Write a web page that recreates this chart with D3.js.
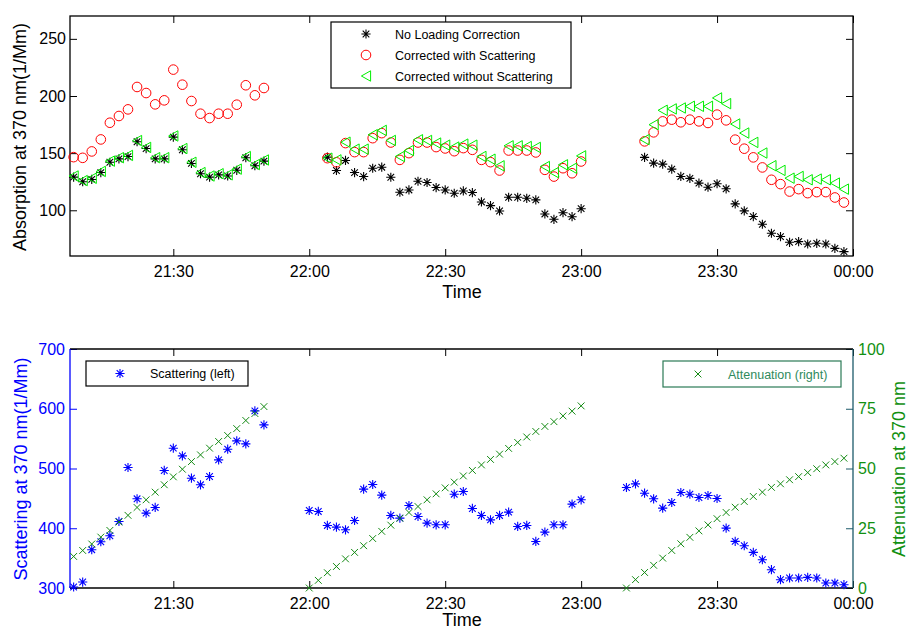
<!DOCTYPE html>
<html>
<head>
<meta charset="utf-8">
<script src="https://cdn.jsdelivr.net/npm/d3@7"></script>
<style>
  body { margin: 0; background: #fff; }
  svg { font-family: "Liberation Sans", Arial, sans-serif; }
</style>
</head>
<body>
<div class="chart"></div>
<script>
var totalWidth = 909;
var totalHeight = 629;

// DATA STUFF
// every series is sampled every 2 minutes, in three runs with gaps between them
var topStarts = ["21:08", "22:04", "23:14"];
var bottomStarts = ["21:08", "22:00", "23:10"];
var timeTicks = ["21:30", "22:00", "22:30", "23:00", "23:30", "00:00"];

var absNoCorrection = [
  [129, 125, 127, 133, 142, 145, 147, 160, 154, 145, 145, 164, 153, 141, 132, 129, 131, 130, 135, 146, 139, 143],
  [146.5, 134.8, 143.6, 133, 129.5, 136.8, 137.7, 128.9, 115.8, 117.8, 125.4, 124.3, 119.9, 117.8, 114.9, 116.9, 115.5, 107.3, 104.1, 99.4, 111.4, 111.4, 110.5, 109.1, 96.8, 92.1, 97.9, 94.4, 101.4],
  [146.3, 141.3, 140.4, 136, 129.6, 127.9, 123.8, 120.2, 123.2, 118.8, 105.6, 99.5, 94.5, 87.8, 79.9, 77, 72, 72.6, 70.5, 71.1, 70.5, 66.7, 63.8]
];
var absWithScattering = [
  [146.5, 145.9, 151.5, 162, 176.6, 182.5, 188.3, 207.9, 202.6, 192.7, 196.2, 223.1, 209.9, 195.6, 184.5, 180.7, 184.5, 184.5, 192.4, 209.4, 200.6, 207],
  [145.6, 142, 158.8, 150.9, 150.9, 163.1, 167.5, 159.3, 144.1, 150, 159.3, 159.3, 155.3, 154.1, 151.7, 154.4, 152.9, 144.1, 142.1, 134.8, 152.3, 152.3, 152.3, 150.6, 135.4, 129.5, 136.8, 132.4, 142.7],
  [160.3, 168.2, 177.8, 179.3, 177, 179.3, 177.8, 176.4, 183.7, 178.7, 161.8, 153.9, 146.3, 137.5, 126.7, 122.9, 116.4, 118.5, 115, 115.9, 115.9, 111.2, 106.8]
];
var absWithoutScattering = [
  [130, 126, 128, 134, 143, 146, 148, 161, 155, 146, 146, 165, 154, 142, 133, 130, 132, 131, 136, 147, 140, 144],
  [145.6, 144.1, 159.6, 153.5, 153.5, 166.1, 169.9, 161.1, 147.1, 152.3, 161.7, 161.1, 158.8, 157, 155.3, 157.9, 157, 147.1, 144.7, 138.9, 156.4, 156.4, 155.8, 155, 138.3, 133, 139.8, 136.8, 147.6],
  [161.8, 174.9, 187.5, 188.7, 189.5, 191, 191, 191, 198.3, 193.3, 175.5, 167.6, 159.4, 150.1, 139, 134.9, 128.1, 129.6, 126.7, 127.3, 126.7, 123.8, 118.5]
];
var scattering = [
  [301.7, 310, 364.1, 377.4, 387.5, 411.4, 501.7, 449.3, 425.3, 434.8, 496.7, 534, 521.2, 483.8, 472.7, 486.6, 514.5, 532.3, 546.2, 541.2, 596.4, 573],
  [429.7, 428.1, 404.7, 401.9, 397.4, 413, 465.4, 473.2, 455.4, 421.4, 416.9, 438.1, 419.7, 408.6, 405.8, 405.8, 457, 461.5, 433.1, 421.4, 414.1, 421.4, 427, 403, 404.7, 377.9, 393.5, 405.8, 405.8, 440.3, 447.6],
  [468.2, 474.3, 458.7, 449.3, 433.6, 443.1, 459.8, 457, 451.5, 454.8, 449.8, 400.2, 378, 370.7, 359.6, 347.3, 330.6, 313.9, 316.7, 316.7, 317.8, 316.7, 308.3, 308.3, 305.5]
];
var attenuation = [
  [13.2, 15.7, 18.4, 21.3, 24.1, 27.6, 30.4, 33.7, 36.9, 40.1, 43.2, 46.5, 49.7, 52.9, 55.7, 58.5, 61.3, 63.8, 66.7, 70.1, 73, 75.9],
  [0, 3.2, 6.4, 9, 12.2, 14.9, 17.7, 20.7, 23.7, 26.3, 29.2, 31.6, 34.1, 36.9, 39.4, 41.9, 44.3, 46.9, 49.2, 51.5, 53.8, 56, 58.4, 60.9, 63.2, 65.5, 67.6, 69.6, 72, 74, 76.2],
  [0, 3.5, 6.5, 9.5, 12.5, 15.7, 18.5, 21.2, 23.9, 26.4, 29, 31.6, 33.8, 36.2, 38.3, 40.1, 42.1, 43.6, 45.3, 46.6, 48.3, 49.9, 51.5, 52.9, 54.3]
];

var absTicks = [100, 150, 200, 250];
var scatTicks = [300, 400, 500, 600, 700];
var attTicks = [0, 25, 50, 75, 100];

// time helpers
function parseClock(s) {
  var p = s.split(":");
  var h = +p[0];
  if (h < 12) h += 24; // after midnight
  return new Date(2000, 0, 1, h, +p[1]);
}

function toPoints(starts, series) {
  var pts = [];
  series.forEach(function(seg, k) {
    var t0 = parseClock(starts[k]);
    seg.forEach(function(v, i) {
      pts.push({ t: d3.timeMinute.offset(t0, 2 * i), v: v });
    });
  });
  return pts;
}

// MARKERS
var starPath = "M-4.6,0H4.6M0,-4.6V4.6M-3.3,-3.3L3.3,3.3M-3.3,3.3L3.3,-3.3";
var crossPath = "M-3.4,-3.4L3.4,3.4M-3.4,3.4L3.4,-3.4";
var triPath = "M-4.6,0L4.6,-5.2L4.6,5.2Z";

// SCALES
var plotLeft = 70, plotRight = 853;
var xScale = d3.scaleTime()
  .domain([new Date(2000, 0, 1, 21, 7, 12), parseClock("00:00")])
  .range([plotLeft, plotRight]);

var topBox = { top: 16, bottom: 256 };
var botBox = { top: 349, bottom: 588 };

var yAbs = d3.scaleLinear().domain([60, 270]).range([topBox.bottom, topBox.top]);
var yScat = d3.scaleLinear().domain([300, 700]).range([botBox.bottom, botBox.top]);
var yAtt = d3.scaleLinear().domain([0, 100]).range([botBox.bottom, botBox.top]);

var tickDates = timeTicks.map(parseClock);
var fmt = d3.timeFormat("%H:%M");

var svg = d3.select(".chart")
  .append("svg")
  .attr("width", totalWidth)
  .attr("height", totalHeight);

function styleAxis(g, color) {
  g.select(".domain").remove();
  g.selectAll(".tick line").attr("stroke", color);
  g.selectAll(".tick text")
    .attr("fill", color)
    .style("font-size", "16px")
    .style("font-family", "'Liberation Sans', Arial, sans-serif");
}

function timeAxes(box) {
  svg.append("g")
    .attr("transform", "translate(0," + box.bottom + ")")
    .call(d3.axisBottom(xScale).tickValues(tickDates).tickFormat(fmt)
      .tickSize(-7).tickPadding(10))
    .call(function(g) { styleAxis(g, "#000"); });
  svg.append("g")
    .attr("transform", "translate(0," + box.top + ")")
    .call(d3.axisTop(xScale).tickValues(tickDates).tickFormat("").tickSize(-7))
    .call(function(g) { styleAxis(g, "#000"); });
}

function drawMarks(g, pts, y, path, color, width) {
  g.selectAll(null)
    .data(pts)
    .enter()
    .append("path")
    .attr("transform", function(d) {
      return "translate(" + xScale(d.t) + "," + y(d.v) + ")";
    })
    .attr("d", path)
    .attr("fill", "none")
    .attr("stroke", color)
    .attr("stroke-width", width);
}

// TOP PANEL
timeAxes(topBox);

svg.append("g")
  .attr("transform", "translate(" + plotLeft + ",0)")
  .call(d3.axisLeft(yAbs).tickValues(absTicks).tickSize(-7).tickPadding(4))
  .call(function(g) { styleAxis(g, "#000"); });
svg.append("g")
  .attr("transform", "translate(" + plotRight + ",0)")
  .call(d3.axisRight(yAbs).tickValues(absTicks).tickFormat("").tickSize(-7))
  .call(function(g) { styleAxis(g, "#000"); });

svg.append("rect")
  .attr("x", plotLeft).attr("y", topBox.top)
  .attr("width", plotRight - plotLeft).attr("height", topBox.bottom - topBox.top)
  .attr("fill", "none").attr("stroke", "#000").attr("stroke-width", 1.3);

var topMarks = svg.append("g");
drawMarks(topMarks, toPoints(topStarts, absNoCorrection), yAbs, starPath, "#000", 1.1);
topMarks.selectAll(null)
  .data(toPoints(topStarts, absWithScattering))
  .enter()
  .append("circle")
  .attr("cx", function(d) { return xScale(d.t); })
  .attr("cy", function(d) { return yAbs(d.v); })
  .attr("r", 4.8)
  .attr("fill", "none")
  .attr("stroke", "#ff0000")
  .attr("stroke-width", 1);
drawMarks(topMarks, toPoints(topStarts, absWithoutScattering), yAbs, triPath, "#00ee00", 1);

svg.append("text")
  .attr("transform", "translate(26,137) rotate(-90)")
  .attr("text-anchor", "middle")
  .style("font-size", "18px")
  .text("Absorption at 370 nm(1/Mm)");
svg.append("text")
  .attr("x", 462).attr("y", 298)
  .attr("text-anchor", "middle")
  .style("font-size", "18px")
  .text("Time");

// top legend
var legTop = svg.append("g").attr("transform", "translate(331,22)");
legTop.append("rect")
  .attr("width", 240).attr("height", 66)
  .attr("fill", "#fff").attr("stroke", "#000").attr("stroke-width", 1.2);
var legItems = [
  { label: "No Loading Correction", kind: "star" },
  { label: "Corrected with Scattering", kind: "circle" },
  { label: "Corrected without Scattering", kind: "tri" }
];
legItems.forEach(function(it, i) {
  var yy = 12 + i * 21;
  if (it.kind === "circle") {
    legTop.append("circle").attr("cx", 35).attr("cy", yy).attr("r", 4.8)
      .attr("fill", "none").attr("stroke", "#ff0000");
  } else {
    legTop.append("path")
      .attr("transform", "translate(35," + yy + ")")
      .attr("d", it.kind === "star" ? starPath : triPath)
      .attr("fill", "none")
      .attr("stroke", it.kind === "star" ? "#000" : "#00ee00")
      .attr("stroke-width", it.kind === "star" ? 1.1 : 1);
  }
  legTop.append("text")
    .attr("x", 64).attr("y", yy + 4.5)
    .style("font-size", "12.5px")
    .text(it.label);
});

// BOTTOM PANEL
timeAxes(botBox);

svg.append("g")
  .attr("transform", "translate(" + plotLeft + ",0)")
  .call(d3.axisLeft(yScat).tickValues(scatTicks).tickSize(-7).tickPadding(5))
  .call(function(g) { styleAxis(g, "#0000ff"); });
svg.append("g")
  .attr("transform", "translate(" + plotRight + ",0)")
  .call(d3.axisRight(yAtt).tickValues(attTicks).tickSize(-7).tickPadding(5))
  .call(function(g) {
    styleAxis(g, "#1d5a6a");
    g.selectAll(".tick text").attr("fill", "#119011");
  });

svg.append("line")
  .attr("x1", plotLeft).attr("x2", plotRight).attr("y1", botBox.top).attr("y2", botBox.top)
  .attr("stroke", "#000").attr("stroke-width", 1.3);
svg.append("line")
  .attr("x1", plotLeft).attr("x2", plotRight).attr("y1", botBox.bottom).attr("y2", botBox.bottom)
  .attr("stroke", "#000").attr("stroke-width", 1.3);
svg.append("line")
  .attr("x1", plotLeft).attr("x2", plotLeft).attr("y1", botBox.top).attr("y2", botBox.bottom)
  .attr("stroke", "#0000ff").attr("stroke-width", 1.3);
svg.append("line")
  .attr("x1", plotRight).attr("x2", plotRight).attr("y1", botBox.top).attr("y2", botBox.bottom)
  .attr("stroke", "#1d5a6a").attr("stroke-width", 1.3);

var botMarks = svg.append("g");
drawMarks(botMarks, toPoints(bottomStarts, scattering), yScat, starPath, "#0000ff", 1.1);
drawMarks(botMarks, toPoints(bottomStarts, attenuation), yAtt, crossPath, "#138a13", 1);

svg.append("text")
  .attr("transform", "translate(27,469) rotate(-90)")
  .attr("text-anchor", "middle")
  .attr("fill", "#0000ff")
  .style("font-size", "18px")
  .text("Scattering at 370 nm(1/Mm)");
svg.append("text")
  .attr("transform", "translate(905,469) rotate(-90)")
  .attr("text-anchor", "middle")
  .attr("fill", "#119011")
  .style("font-size", "18px")
  .text("Attenuation at 370 nm");
svg.append("text")
  .attr("x", 462).attr("y", 626)
  .attr("text-anchor", "middle")
  .style("font-size", "18px")
  .text("Time");

// bottom legends
var legL = svg.append("g").attr("transform", "translate(86,361)");
legL.append("rect").attr("width", 162).attr("height", 25)
  .attr("fill", "#fff").attr("stroke", "#000").attr("stroke-width", 1.2);
legL.append("path").attr("transform", "translate(34,12.5)").attr("d", starPath)
  .attr("fill", "none").attr("stroke", "#0000ff").attr("stroke-width", 1.1);
legL.append("text").attr("x", 64).attr("y", 17).style("font-size", "12.5px")
  .text("Scattering (left)");

var legR = svg.append("g").attr("transform", "translate(663,361)");
legR.append("rect").attr("width", 178).attr("height", 26)
  .attr("fill", "#fff").attr("stroke", "#2b7a55").attr("stroke-width", 1.2);
legR.append("path").attr("transform", "translate(35,13)").attr("d", crossPath)
  .attr("fill", "none").attr("stroke", "#138a13").attr("stroke-width", 1);
legR.append("text").attr("x", 65).attr("y", 17.5).style("font-size", "12.5px")
  .attr("fill", "#2f8a5c")
  .text("Attenuation (right)");
</script>
</body>
</html>
